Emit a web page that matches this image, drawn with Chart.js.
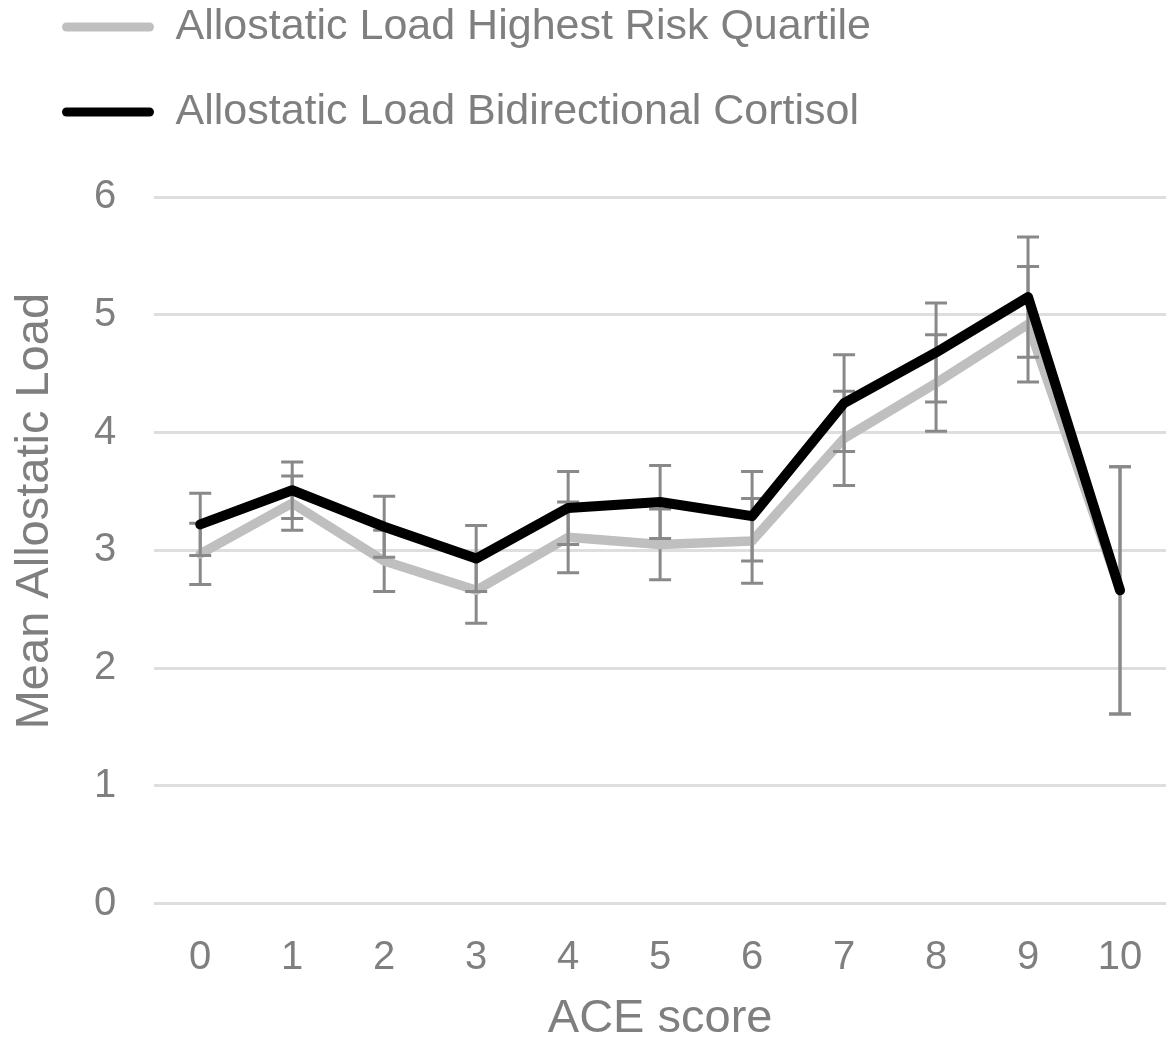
<!DOCTYPE html>
<html>
<head>
<meta charset="utf-8">
<script src="https://cdn.jsdelivr.net/npm/chart.js@4.4.1/dist/chart.umd.min.js"></script>
<style>
  html, body { margin: 0; padding: 0; background: #ffffff; }
  #wrap { width: 1168px; height: 1046px; }
</style>
</head>
<body>
<div id="wrap"><canvas id="c" width="1168" height="1046"></canvas></div>
<script>
// ---- data ----
const aceScores = ['0', '1', '2', '3', '4', '5', '6', '7', '8', '9', '10'];
const seriesNames = ['Allostatic Load Highest Risk Quartile', 'Allostatic Load Bidirectional Cortisol'];
const highestRiskQuartile = [2.97, 3.40, 2.91, 2.66, 3.11, 3.05, 3.08, 3.95, 4.42, 4.92, 2.66];
const highestRiskQuartileErr = [0.26, 0.23, 0.26, 0.28, 0.30, 0.30, 0.36, 0.40, 0.41, 0.49, 1.05];
const bidirectionalCortisol = [3.22, 3.51, 3.20, 2.93, 3.36, 3.41, 3.29, 4.25, 4.68, 5.15, 2.66];
const bidirectionalCortisolErr = [0.265, 0.24, 0.26, 0.28, 0.31, 0.31, 0.38, 0.41, 0.42, 0.51, 1.05];
const yTicks = [0, 1, 2, 3, 4, 5, 6];
const xTitle = 'ACE score';
const yTitle = 'Mean Allostatic Load';

const FONT = '"Liberation Sans", Arial, Helvetica, sans-serif';
const TEXT = '#7f7f7f';
const errorArrays = [highestRiskQuartileErr, bidirectionalCortisolErr];

const errorBarPlugin = {
  id: 'errorBars',
  beforeDatasetDraw(chart, args) {
    const errs = errorArrays[args.index];
    if (!errs) return;
    const ys = chart.scales.y;
    const ds = chart.data.datasets[args.index];
    const ctx = chart.ctx;
    ctx.save();
    ctx.strokeStyle = '#898989';
    ctx.lineWidth = 3;
    ctx.lineCap = 'butt';
    args.meta.data.forEach((pt, i) => {
      const v = ds.data[i];
      const e = errs[i];
      const x = pt.x;
      const yt = ys.getPixelForValue(v + e);
      const yb = ys.getPixelForValue(v - e);
      ctx.beginPath();
      ctx.moveTo(x, yt); ctx.lineTo(x, yb);
      ctx.moveTo(x - 11, yt); ctx.lineTo(x + 11, yt);
      ctx.moveTo(x - 11, yb); ctx.lineTo(x + 11, yb);
      ctx.stroke();
    });
    ctx.restore();
  }
};

new Chart(document.getElementById('c'), {
  type: 'line',
  data: {
    labels: aceScores,
    datasets: [
      {
        label: seriesNames[0],
        data: highestRiskQuartile,
        borderColor: '#bfbfbf',
        backgroundColor: '#bfbfbf',
        borderWidth: 9.5,
        pointRadius: 0,
        tension: 0,
        borderJoinStyle: 'round',
        borderCapStyle: 'round',
        order: 1
      },
      {
        label: seriesNames[1],
        data: bidirectionalCortisol,
        borderColor: '#000000',
        backgroundColor: '#000000',
        borderWidth: 10,
        pointRadius: 0,
        tension: 0,
        borderJoinStyle: 'round',
        borderCapStyle: 'round',
        order: 0
      }
    ]
  },
  options: {
    responsive: false,
    animation: false,
    devicePixelRatio: 1,
    layout: { padding: { top: -36.5, left: 20, right: 2, bottom: -1 } },
    plugins: {
      tooltip: { enabled: false },
      legend: {
        display: true,
        position: 'top',
        align: 'start',
        labels: {
          font: { family: FONT, size: 43 },
          color: TEXT,
          boxWidth: 92,
          boxHeight: 9,
          padding: 42,
          useBorderRadius: true,
          borderRadius: 4.5,
          generateLabels(chart) {
            return chart.data.datasets.map((ds, i) => ({
              text: ds.label,
              fillStyle: ds.borderColor,
              strokeStyle: ds.borderColor,
              lineWidth: 0,
              borderRadius: 4.5,
              fontColor: TEXT,
              hidden: false,
              datasetIndex: i
            }));
          }
        }
      },
      subtitle: {
        display: true,
        text: '',
        weight: 500,
        font: { size: 10, lineHeight: 1 },
        padding: { top: 0, bottom: 43.5 }
      }
    },
    scales: {
      x: {
        type: 'category',
        offset: true,
        grid: { display: false, drawTicks: false },
        border: { display: false },
        ticks: {
          font: { family: FONT, size: 40, lineHeight: 1.55 },
          color: TEXT,
          padding: 23,
          maxRotation: 0,
          autoSkip: false
        },
        title: {
          display: true,
          text: xTitle,
          font: { family: FONT, size: 47 },
          color: TEXT,
          padding: { top: -21, bottom: 0 }
        }
      },
      y: {
        min: 0,
        max: 6,
        afterBuildTicks(scale) { scale.ticks = yTicks.map(v => ({ value: v })); },
        grid: { color: '#dedede', lineWidth: 3, drawTicks: false },
        border: { display: false },
        ticks: {
          font: { family: FONT, size: 40 },
          color: TEXT,
          padding: 38
        },
        title: {
          display: true,
          text: '      ' + yTitle,
          font: { family: FONT, size: 47, lineHeight: 1 },
          color: TEXT,
          padding: { top: -8, bottom: -3 }
        }
      }
    }
  },
  plugins: [errorBarPlugin]
});
</script>
</body>
</html>
